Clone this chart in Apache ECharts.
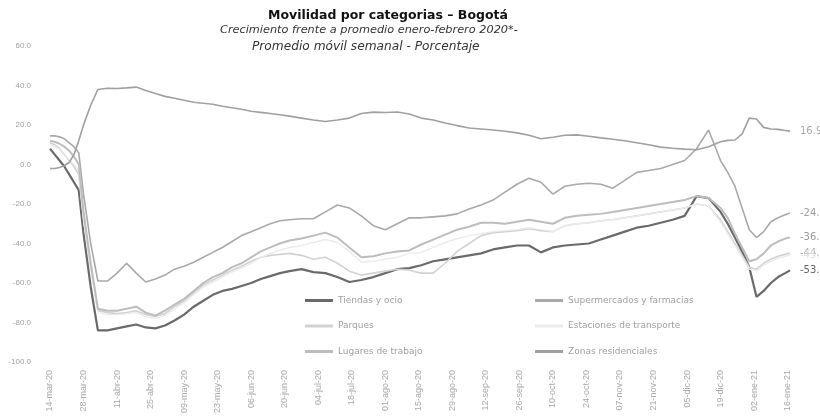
<!DOCTYPE html>
<html>
<head>
<meta charset="utf-8">
<script src="https://cdn.jsdelivr.net/npm/echarts@6/dist/echarts.min.js"></script>
<style>
  html, body { margin: 0; padding: 0; background: #ffffff; }
  #chart { width: 820px; height: 420px; }
</style>
</head>
<body>
<div id="chart"></div>
<script>
// Day offsets counted from 14-mar-20 (7-day moving averages)
const days = [0,2,4,6,8,10,12,14,17,20,24,28,32,36,40,44,48,52,56,60,64,68,72,76,80,84,88,92,96,100,
  105,110,115,120,125,130,135,140,145,150,155,160,165,170,175,180,185,190,195,200,205,210,215,220,225,
  230,235,240,245,250,255,260,265,270,275,280,283,286,289,292,295,298,301,304,307,309];

// Tick labels, one every 14 days
const tickLabels = ['14-mar-20','28-mar-20','11-abr-20','25-abr-20','09-may-20','23-may-20','06-jun-20',
  '20-jun-20','04-jul-20','18-jul-20','01-ago-20','15-ago-20','29-ago-20','12-sep-20','26-sep-20',
  '10-oct-20','24-oct-20','07-nov-20','21-nov-20','05-dic-20','19-dic-20','02-ene-21','16-ene-21'];

const tiendas = [8,5,2,-1,-5,-9,-13,-35,-62,-84,-84,-83,-82,-81,-82.5,-83,-81.5,-79,-76,-72,-69,-66,-64,-63,-61.5,-60,-58,-56.5,-55,-54,
  -53,-54.5,-55,-57,-59.5,-58.5,-57,-55,-53,-52.5,-51,-49,-48,-47,-46,-45,-43,-42,-41,-41,-44.5,-42,-41,-40.5,-40,
  -38,-36,-34,-32,-31,-29.5,-28,-26,-16,-17,-24,-30,-37,-44,-52,-67,-64,-60,-57,-55,-53.6];

const supermercados = [14.5,14.5,14,13,11,9,6,-15,-40,-59,-59,-55,-50,-55,-59.5,-58,-56,-53,-51.5,-49.5,-47,-44.5,-42,-39,-36,-34,-32,-30,-28.5,-28,
  -27.5,-27.5,-24,-20.5,-22,-26,-31,-33,-30,-27,-27,-26.5,-26,-25,-22.5,-20.5,-18,-14,-10,-7,-9,-15,-11,-10,-9.5,
  -10,-12,-8,-4,-3,-2,0,2,8,17.5,2,-4,-11,-22,-33,-37,-34,-29,-27,-25.5,-24.6];

const parques = [11,10,8,5,2,-1,-5,-28,-52,-74,-75,-75.5,-75,-74,-76,-77,-75.5,-72,-69,-65,-61,-58.5,-56,-53.5,-51.5,-49,-47,-46,-45.5,-45,
  -46,-48,-47,-50,-54,-56,-55,-54,-53,-53.5,-55,-55,-50,-44,-40,-36,-34.5,-34,-33.5,-32.5,-33.5,-34,-31,-30,-29.5,
  -28.5,-28,-27,-26,-25,-24,-23,-22,-20,-21,-28,-34,-40,-46,-52,-53,-50,-48,-46.5,-45.5,-44.8];

const estaciones = [10,9,7.5,5,2.5,0,-3,-28,-52,-75,-76,-76,-75.5,-75,-77,-78,-76.5,-73,-70,-66,-62,-59.5,-57,-54.5,-52.5,-50,-47,-45,-43.5,-42,
  -41,-39.5,-38,-39.5,-44,-49.5,-49,-48,-47,-45,-44.5,-42,-39.5,-37.5,-36,-35,-34,-33.5,-33,-32,-33,-34,-31,-30,-29.5,
  -28.5,-28,-27,-26,-25,-24,-23,-22,-20,-21,-29,-35,-41,-47,-53,-54,-51,-49,-47.5,-46.5,-45.8];

const trabajo = [12,11.5,10.5,9,7,4,0,-24,-50,-73,-74,-74,-73,-72,-75,-76.5,-74,-71,-68,-64,-60,-57,-55,-52,-50,-47,-44,-42,-40,-38.5,
  -37.5,-36,-34.5,-37,-42,-47,-46.5,-45,-44,-43.5,-40.5,-38,-35.5,-33,-31.5,-29.5,-29.5,-30,-29,-28,-29,-30,-27,-26,-25.5,
  -25,-24,-23,-22,-21,-20,-19,-18,-16,-17,-22,-27,-35,-42,-49,-48,-45,-41,-39,-37.5,-36.9];

const residenciales = [-2,-2,-1.5,-0.5,1,5,12,20,30,38,38.6,38.5,38.8,39.2,37.5,36,34.5,33.5,32.5,31.5,31,30.5,29.5,28.7,28,27,26.4,25.8,25.2,24.5,
  23.5,22.5,21.8,22.5,23.5,25.8,26.5,26.3,26.6,25.6,23.5,22.5,21,19.7,18.5,18,17.5,16.8,16,14.8,13,13.8,14.8,15,14.3,
  13.5,12.8,12,11,10,8.8,8.2,7.8,7.5,9,11.5,12.2,12.4,15.5,23.5,23,18.8,18,17.8,17.2,16.9];

const seriesDefs = [
  { name: 'Tiendas y ocio', values: tiendas, color: '#6a6a6a', width: 2.2, label: '#666666' },
  { name: 'Supermercados y farmacias', values: supermercados, color: '#a9a9a9', width: 1.6, label: '#a0a0a0' },
  { name: 'Parques', values: parques, color: '#d2d2d2', width: 1.6, label: '#b0b0b0' },
  { name: 'Estaciones de transporte', values: estaciones, color: '#ebebeb', width: 1.4, label: '#e4e4e4' },
  { name: 'Lugares de trabajo', values: trabajo, color: '#bdbdbd', width: 2, label: '#999999' },
  { name: 'Zonas residenciales', values: residenciales, color: '#a0a0a0', width: 1.6, label: '#a8a8a8' }
];

const chart = echarts.init(document.getElementById('chart'), null, { renderer: 'canvas' });

const series = seriesDefs.map(s => ({
  name: s.name,
  type: 'line',
  data: days.map((d, i) => [d, s.values[i]]),
  showSymbol: false,
  smooth: false,
  lineStyle: { color: s.color, width: s.width },
  itemStyle: { color: s.color },
  endLabel: {
    show: true,
    distance: 10,
    color: s.label,
    fontSize: 10,
    fontFamily: 'DejaVu Sans',
    formatter: p => p.value[1].toFixed(1)
  },
  emphasis: { disabled: true },
  animation: false
}));

const legendText = { color: '#a0a0a0', fontSize: 9, fontFamily: 'DejaVu Sans' };

chart.setOption({
  backgroundColor: '#ffffff',
  animation: false,
  title: [
    { text: 'Movilidad por categorias – Bogotá', left: 263, top: 4,
      textStyle: { fontSize: 12.5, fontWeight: 'bold', color: '#111', fontFamily: 'DejaVu Sans' } },
    { text: 'Crecimiento frente a promedio enero-febrero 2020*-', left: 215, top: 20,
      textStyle: { fontSize: 11.3, fontStyle: 'italic', fontWeight: 'normal', color: '#333', fontFamily: 'DejaVu Sans' } },
    { text: 'Promedio móvil semanal - Porcentaje', left: 247, top: 36,
      textStyle: { fontSize: 12.2, fontStyle: 'italic', fontWeight: 'normal', color: '#333', fontFamily: 'DejaVu Sans' } }
  ],
  legend: [
    { data: ['Tiendas y ocio', 'Parques', 'Lugares de trabajo'], orient: 'vertical', left: 300, top: 291,
      itemWidth: 28, itemHeight: 3, itemGap: 16.5, icon: 'rect', textStyle: legendText, selectedMode: false },
    { data: ['Supermercados y farmacias', 'Estaciones de transporte', 'Zonas residenciales'], orient: 'vertical', left: 530, top: 291,
      itemWidth: 28, itemHeight: 3, itemGap: 16.5, icon: 'rect', textStyle: legendText, selectedMode: false }
  ],
  grid: { left: 50, right: 30, top: 46, bottom: 58, containLabel: false },
  xAxis: {
    type: 'value',
    min: 0,
    max: 309,
    interval: 14,
    axisLine: { show: false },
    axisTick: { show: false },
    splitLine: { show: false },
    axisLabel: {
      rotate: 90,
      margin: 8,
      fontSize: 9,
      color: '#a8a8a8',
      fontFamily: 'Liberation Sans',
      showMaxLabel: false,
      formatter: v => (v % 14 === 0 && tickLabels[v / 14]) ? tickLabels[v / 14] : ''
    }
  },
  yAxis: {
    type: 'value',
    min: -100,
    max: 60,
    interval: 20,
    axisLine: { show: false },
    axisTick: { show: false },
    splitLine: { show: false },
    axisLabel: {
      margin: 19,
      fontSize: 8,
      color: '#a0a0a0',
      fontFamily: 'Liberation Sans',
      formatter: v => v.toFixed(1)
    }
  },
  series: series
});
</script>
</body>
</html>
